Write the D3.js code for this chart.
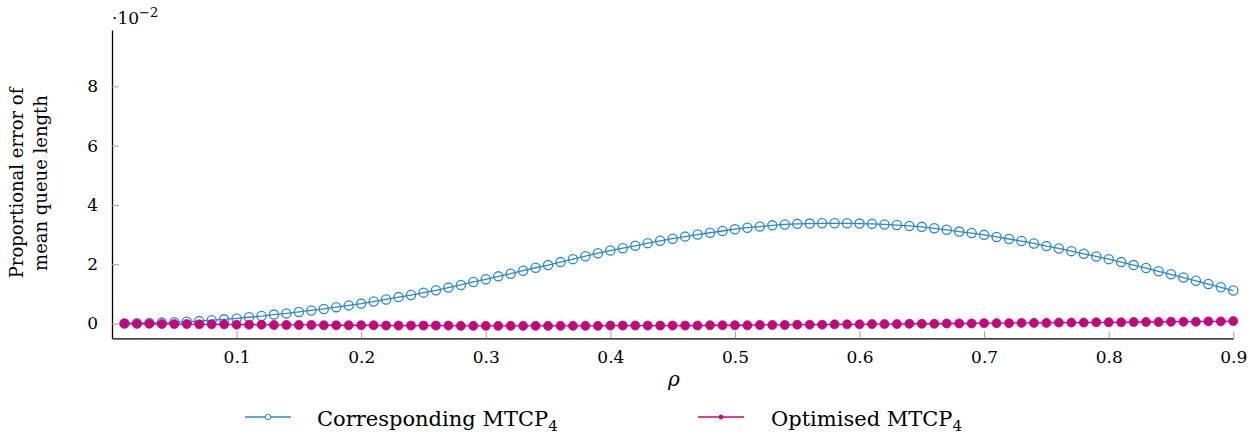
<!DOCTYPE html>
<html>
<head>
<meta charset="utf-8">
<script src="https://cdn.jsdelivr.net/npm/d3@7"></script>
<style>
  html, body { margin: 0; padding: 0; background: #fff; }
  svg { display: block; }
</style>
</head>
<body>
<svg id="chart" width="1257" height="436"></svg>
<script>
// Load factor rho
const rho = [
  0.01,0.02,0.03,0.04,0.05,0.06,0.07,0.08,0.09,0.10,
  0.11,0.12,0.13,0.14,0.15,0.16,0.17,0.18,0.19,0.20,
  0.21,0.22,0.23,0.24,0.25,0.26,0.27,0.28,0.29,0.30,
  0.31,0.32,0.33,0.34,0.35,0.36,0.37,0.38,0.39,0.40,
  0.41,0.42,0.43,0.44,0.45,0.46,0.47,0.48,0.49,0.50,
  0.51,0.52,0.53,0.54,0.55,0.56,0.57,0.58,0.59,0.60,
  0.61,0.62,0.63,0.64,0.65,0.66,0.67,0.68,0.69,0.70,
  0.71,0.72,0.73,0.74,0.75,0.76,0.77,0.78,0.79,0.80,
  0.81,0.82,0.83,0.84,0.85,0.86,0.87,0.88,0.89,0.90
];

// Proportional error of mean queue length, in units of 1e-2
const corresponding = [
  0.00,0.01,0.02,0.03,0.04,0.06,0.08,0.11,0.14,0.17,
  0.21,0.25,0.30,0.34,0.39,0.44,0.49,0.55,0.61,0.67,
  0.74,0.81,0.89,0.96,1.04,1.12,1.21,1.30,1.40,1.49,
  1.59,1.68,1.78,1.88,1.97,2.07,2.17,2.27,2.37,2.46,
  2.54,2.62,2.71,2.79,2.86,2.93,3.00,3.06,3.12,3.18,
  3.23,3.27,3.31,3.34,3.36,3.37,3.38,3.38,3.38,3.37,
  3.36,3.34,3.32,3.29,3.26,3.21,3.16,3.10,3.05,2.99,
  2.92,2.85,2.78,2.70,2.61,2.53,2.44,2.35,2.26,2.17,
  2.07,1.97,1.87,1.76,1.66,1.55,1.44,1.33,1.22,1.11
];

const optimised = [
  0.00,-0.01,-0.01,-0.02,-0.02,-0.02,-0.03,-0.03,-0.03,-0.04,
  -0.04,-0.04,-0.05,-0.05,-0.05,-0.05,-0.06,-0.06,-0.06,-0.06,
  -0.06,-0.07,-0.07,-0.07,-0.07,-0.07,-0.07,-0.08,-0.08,-0.08,
  -0.08,-0.08,-0.08,-0.08,-0.08,-0.08,-0.08,-0.08,-0.08,-0.07,
  -0.07,-0.07,-0.07,-0.07,-0.07,-0.07,-0.07,-0.06,-0.06,-0.06,
  -0.06,-0.05,-0.05,-0.05,-0.04,-0.04,-0.04,-0.03,-0.03,-0.03,
  -0.02,-0.02,-0.02,-0.01,-0.01,-0.01,0.00,0.00,0.00,0.01,
  0.01,0.01,0.02,0.02,0.02,0.03,0.03,0.03,0.04,0.04,
  0.04,0.05,0.05,0.05,0.06,0.06,0.06,0.07,0.07,0.08
];

const xTicks = [0.1,0.2,0.3,0.4,0.5,0.6,0.7,0.8,0.9];
const yTicks = [0,2,4,6,8];
const seriesNames = ["Corresponding MTCP", "Optimised MTCP"];

const blue = "#2a86d2";
const pink = "#c2077c";
const serif = "'DejaVu Serif'";

const svg = d3.select("#chart");

const x = d3.scaleLinear().domain([0, 0.9]).range([112, 1233.3]);
const y = d3.scaleLinear().domain([-0.5, 9.9]).range([338.3, 30]);

// Axes: ticks drawn inward, grey
const xAxis = d3.axisBottom(x).tickValues(xTicks)
  .tickFormat(d3.format(".1f")).tickSizeInner(-7).tickSizeOuter(0).tickPadding(13);
const yAxis = d3.axisLeft(y).tickValues(yTicks)
  .tickFormat(d3.format("d")).tickSizeInner(-7).tickSizeOuter(0).tickPadding(14);

const gx = svg.append("g").attr("transform", `translate(0,${y.range()[0]})`).call(xAxis);
const gy = svg.append("g").attr("transform", `translate(${x.range()[0]},0)`).call(yAxis);

[gx, gy].forEach(g => {
  g.select(".domain").attr("stroke", "#000").attr("stroke-width", 1.3);
  g.selectAll(".tick line").attr("stroke", "#a0a0a0").attr("stroke-width", 1);
  g.selectAll(".tick text").style("font-family", serif)
    .attr("font-size", 17).attr("fill", "#000");
});

// Scale factor note above the y axis
const sf = svg.append("text").attr("x", 112).attr("y", 24).attr("font-size", 17)
  .style("font-family", serif);
sf.append("tspan").text("·10");
sf.append("tspan").attr("dy", -7).attr("font-size", 13).text("−2");

// Axis titles
svg.append("text").attr("x", 674).attr("y", 386).attr("text-anchor", "middle")
  .style("font-family", serif).attr("font-size", 20).attr("font-style", "italic").text("ρ");

const yl = svg.append("text").attr("transform", "translate(0,183) rotate(-90)")
  .style("font-family", serif).attr("text-anchor", "middle").attr("font-size", 18);
yl.append("tspan").attr("x", 0).attr("y", 23).text("Proportional error of");
yl.append("tspan").attr("x", 0).attr("y", 47).text("mean queue length");

// Series
const line = d3.line().x((d, i) => x(rho[i])).y(d => y(d));

svg.append("path").datum(corresponding).attr("d", line)
  .attr("fill", "none").attr("stroke", blue).attr("stroke-width", 1.3);
svg.append("g").selectAll("circle").data(corresponding).join("circle")
  .attr("cx", (d, i) => x(rho[i])).attr("cy", d => y(d)).attr("r", 4.6)
  .attr("fill", "none").attr("stroke", blue).attr("stroke-width", 1.3);

svg.append("path").datum(optimised).attr("d", line)
  .attr("fill", "none").attr("stroke", pink).attr("stroke-width", 1.3);
svg.append("g").selectAll("circle").data(optimised).join("circle")
  .attr("cx", (d, i) => x(rho[i])).attr("cy", d => y(d)).attr("r", 4.5)
  .attr("fill", pink).attr("stroke", pink).attr("stroke-width", 0.8);

// Legend
const legend = [
  { name: seriesNames[0], color: blue, x0: 245, tx: 317, filled: false },
  { name: seriesNames[1], color: pink, x0: 698, tx: 771, filled: true }
];
const lg = svg.append("g");
legend.forEach(l => {
  lg.append("line").attr("x1", l.x0).attr("x2", l.x0 + 46).attr("y1", 417).attr("y2", 417)
    .attr("stroke", l.color).attr("stroke-width", 1.3);
  lg.append("circle").attr("cx", l.x0 + 23).attr("cy", 417).attr("r", l.filled ? 2 : 2.8)
    .attr("fill", l.filled ? l.color : "#fff").attr("stroke", l.color).attr("stroke-width", 1);
  const t = lg.append("text").attr("x", l.tx).attr("y", 426).attr("font-size", 21)
    .style("font-family", serif);
  t.append("tspan").text(l.name);
  t.append("tspan").attr("dy", 5).attr("font-size", 15).text("4");
});
</script>
</body>
</html>
